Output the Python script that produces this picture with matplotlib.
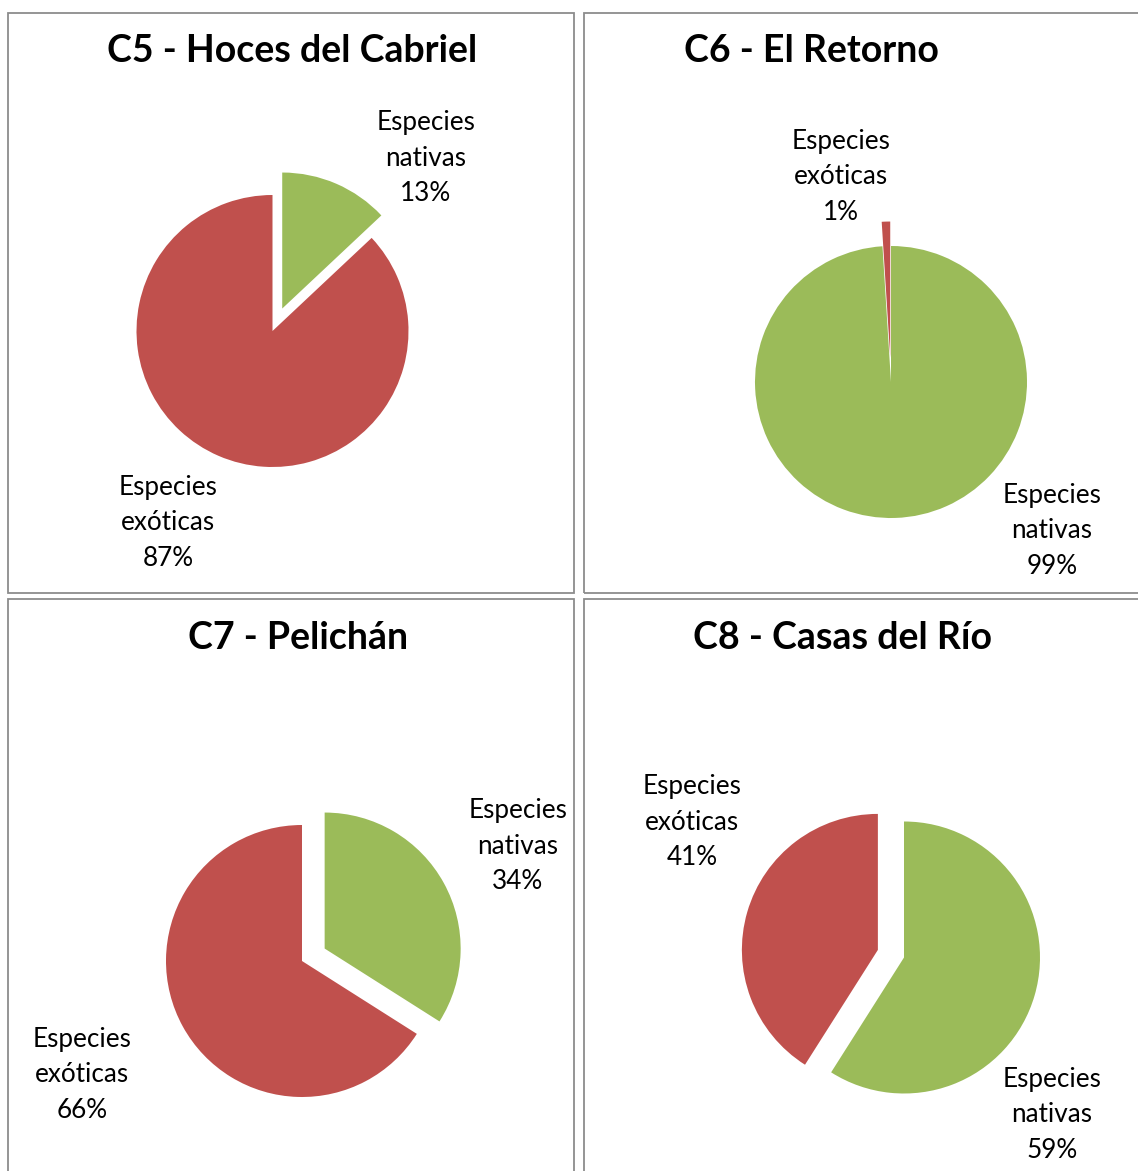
import matplotlib
matplotlib.use('Agg')
import matplotlib.pyplot as plt
from matplotlib.patches import Rectangle

plt.rcParams['font.family'] = ['Lato', 'DejaVu Sans']

W, H = 1138, 1171

# data
titles = ['C5 - Hoces del Cabriel', 'C6 - El Retorno', 'C7 - Pelichán', 'C8 - Casas del Río']
categories = ['Especies nativas', 'Especies exóticas']
nativas = [13, 99, 34, 59]
exoticas = [87, 1, 66, 41]
colors = ['#9BBB59', '#C0504D']

# layout, in pixels of the picture (y goes down)
panels = [(8.5, 12.5, 566, 580), (584.5, 12.5, 600, 580),
          (8.5, 598.5, 566, 620), (584.5, 598.5, 600, 620)]
centers = [(272.5, 331), (891, 382), (302, 961), (904, 957.5)]
explodes = [(0.18, 0), (0, 0.18), (0.19, 0), (0, 0.2)]
radius = 136
title_pos = [(292, 62), (811, 62), (298, 649), (843, 649)]
label_pos = [[(426, 158), (168, 523)],
             [(1052, 531), (841, 177)],
             [(518, 846), (82, 1075)],
             [(1052, 1115), (692, 822)]]

fig = plt.figure(figsize=(W / 100, H / 100), dpi=100)
ax = fig.add_axes([0, 0, 1, 1])

for i in range(4):
    x, y, w, h = panels[i]
    ax.add_patch(Rectangle((x, H - y - h), w, h, fill=False, ec='#8c8c8c', lw=1.3))

    cx, cy = centers[i]
    vals = [nativas[i], exoticas[i]]
    # explode is in data units in matplotlib, so scale by radius
    ax.pie(vals, colors=colors, startangle=90, counterclock=False,
           explode=[e * radius for e in explodes[i]], center=(cx, H - cy),
           radius=radius, wedgeprops=dict(linewidth=0))

    tx, ty = title_pos[i]
    ax.text(tx, H - ty, titles[i], ha='center', va='baseline',
            fontsize=27, fontweight='bold', color='black')

    for j in range(2):
        lx, ly = label_pos[i][j]
        txt = categories[j].replace(' ', '\n') + '\n%d%%' % vals[j]
        ax.text(lx, H - ly, txt, ha='center', va='center',
                fontsize=18.8, linespacing=1.52, color='black')

ax.set_xlim(0, W)
ax.set_ylim(0, H)
ax.axis('off')

fig.savefig('out.png', dpi=100)
